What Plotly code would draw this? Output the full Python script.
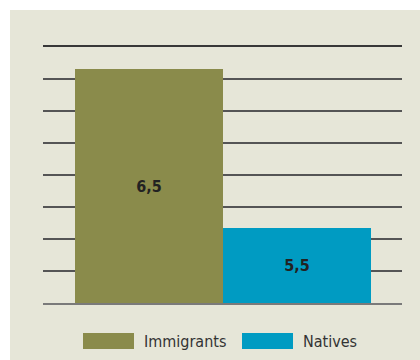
import plotly.graph_objects as go

categories = ["Immigrants", "Natives"]
values = [6.46, 5.47]
colors = ["#8a8b4b", "#009bc2"]
axis_min = 5.0
axis_max = 6.6
grid_step = 0.2

W, H = 420, 360
L, R, T, B = 43, 18, 47, 57
pw, ph = W - L - R, H - T - B

def px_x(p):
    return (p - L) / pw

def px_y(p):
    return (H - B - p) / ph

FONT = "DejaVu Sans Condensed, DejaVu Sans, sans-serif"

fig = go.Figure()
for i, (c, v, col) in enumerate(zip(categories, values, colors)):
    fig.add_trace(go.Bar(
        x=[i], y=[v - axis_min], base=[axis_min], width=1.0,
        marker=dict(color=col, line=dict(width=0)),
        customdata=[v], texttemplate="<b>%{customdata:.1f}</b>",
        textposition="inside", insidetextanchor="middle",
        textfont=dict(family=FONT, size=16, color="#222222"),
        name=c, showlegend=False, hoverinfo="skip",
    ))
# invisible trace to carry the top axis line
fig.add_trace(go.Scatter(x=[0], y=[axis_min], xaxis="x2", mode="markers",
                         marker=dict(opacity=0), showlegend=False, hoverinfo="skip"))

shapes = [dict(type="rect", xref="paper", yref="paper",
               x0=px_x(10), x1=px_x(W + 5), y0=px_y(H + 5), y1=px_y(10),
               fillcolor="#e6e6d8", line=dict(width=0), layer="below")]
annotations = []
legend_x = [83, 242]
for c, col, lx in zip(categories, colors, legend_x):
    shapes.append(dict(type="rect", xref="paper", yref="paper",
                       x0=px_x(lx), x1=px_x(lx + 51), y0=px_y(349), y1=px_y(333),
                       fillcolor=col, line=dict(width=0)))
    annotations.append(dict(xref="paper", yref="paper", x=px_x(lx + 59), y=px_y(341.5),
                            text=c, showarrow=False, xanchor="left", yanchor="middle",
                            font=dict(family=FONT, size=16, color="#333333")))

xr = [-0.5 - 32 / 147, 1.5 + 31 / 147]
fig.update_layout(
    width=W, height=H,
    margin=dict(l=L, r=R, t=T, b=B),
    paper_bgcolor="white", plot_bgcolor="rgba(0,0,0,0)",
    separators=", ",
    bargap=0,
    shapes=shapes, annotations=annotations,
    xaxis=dict(range=xr, showgrid=False, showticklabels=False, zeroline=False,
               ticks="", showline=True, linecolor="#7a7a7a", linewidth=2),
    xaxis2=dict(range=xr, overlaying="x", side="top", anchor="y", showgrid=False,
                showticklabels=False, zeroline=False, ticks="", showline=True,
                linecolor="#383838", linewidth=2),
    yaxis=dict(range=[axis_min, axis_max], dtick=grid_step, tick0=axis_min,
               showgrid=True, gridcolor="#555555", gridwidth=2,
               showticklabels=False, zeroline=False, ticks="", layer="below traces"),
)

fig.write_html("out.html")
